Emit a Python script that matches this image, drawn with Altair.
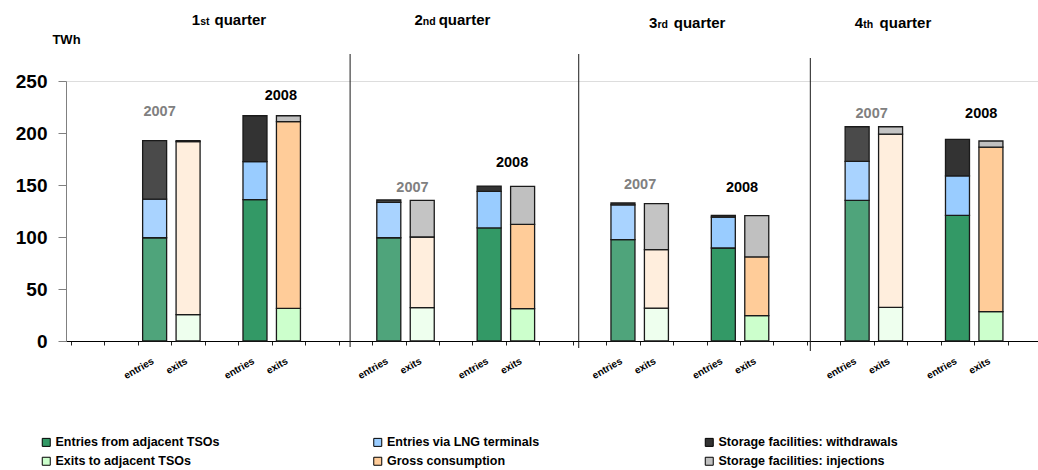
import altair as alt
import pandas as pd

# ---------------- data ----------------
quarters = ["1st quarter", "2nd quarter", "3rd quarter", "4th quarter"]
title_nums = ["1", "2", "3", "4"]
title_suffixes = ["st", "nd", "rd", "th"]
years = ["2007", "2008"]
sides = ["entries", "exits"]
series_entries = ["Entries from adjacent TSOs", "Entries via LNG terminals",
                  "Storage facilities: withdrawals"]
series_exits = ["Exits to adjacent TSOs", "Gross consumption",
                "Storage facilities: injections"]

# TWh, per quarter (Q1..Q4)
entries_tso_2007 = [99.3, 99.3, 97.4, 135.3]
lng_2007 = [37.2, 34.0, 33.4, 37.5]
withdrawals_2007 = [56.1, 2.3, 1.9, 33.2]
exits_tso_2007 = [25.3, 32.0, 31.7, 32.4]
consumption_2007 = [166.5, 68.0, 56.1, 166.6]
injections_2007 = [0.8, 35.3, 44.3, 7.0]

entries_tso_2008 = [135.9, 108.7, 89.4, 120.8]
lng_2008 = [36.5, 35.2, 29.8, 37.9]
withdrawals_2008 = [44.2, 5.1, 1.6, 35.2]
exits_tso_2008 = [31.4, 31.1, 24.4, 28.2]
consumption_2008 = [179.5, 81.1, 56.4, 158.3]
injections_2008 = [5.7, 36.5, 39.7, 5.8]

values = {
    ("2007", "entries"): [entries_tso_2007, lng_2007, withdrawals_2007],
    ("2007", "exits"): [exits_tso_2007, consumption_2007, injections_2007],
    ("2008", "entries"): [entries_tso_2008, lng_2008, withdrawals_2008],
    ("2008", "exits"): [exits_tso_2008, consumption_2008, injections_2008],
}

# ---------------- layout ----------------
FONT = "Liberation Sans"
SLOT_PX = 33.8
PLOT_W = 972
PLOT_H = 260
X_MAX = PLOT_W / SLOT_PX
Y_PX = PLOT_H / 250.0
SLOTS_PER_Q = 7
bar_offset = {("2007", "entries"): 2.5, ("2007", "exits"): 3.5,
              ("2008", "entries"): 5.5, ("2008", "exits"): 6.5}

def px_to_slot(px):
    return (px - 66) / SLOT_PX

def py_to_val(py):
    return (341 - py) / Y_PX

series_all = [series_entries[0], series_entries[1], series_entries[2],
              series_exits[0], series_exits[1], series_exits[2]]
colors_2008 = ["#339966", "#99CCFF", "#333333", "#CCFFCC", "#FFCC99", "#C0C0C0"]
colors_2007 = ["#4FA47B", "#A9D3FF", "#4A4A4A", "#EEFFEE", "#FFEEDD", "#C4C4C4"]

rows = []
for qi, q in enumerate(quarters):
    for yr in years:
        for side in sides:
            names = series_entries if side == "entries" else series_exits
            for k, name in enumerate(names):
                rows.append({
                    "quarter": q, "year": yr, "side": side, "series": name,
                    "value": values[(yr, side)][k][qi], "ord": k,
                    "pos": SLOTS_PER_Q * qi + bar_offset[(yr, side)],
                })
bars = pd.DataFrame(rows)

# category labels under the bars: anchor (top-right corner of the rotated
# text) sits 4 px left of the bar centre and 15 px below the axis
LAB_DX_PX, LAB_DY_PX = -4, 15
lab_rows = []
for qi in range(4):
    for yr in years:
        for side in sides:
            lab_rows.append({
                "label": side,
                "pos": SLOTS_PER_Q * qi + bar_offset[(yr, side)] + LAB_DX_PX / SLOT_PX,
                "y": -LAB_DY_PX / Y_PX,
            })
labels_df = pd.DataFrame(lab_rows)

# year annotations (centre, px in the reference layout)
yr_label_px_x = [155.5, 278, 411, 511.7, 641, 744, 875, 985.7]
yr_label_px_y = [112, 96, 188, 162.7, 184.7, 188, 114, 114]
yr_df = pd.DataFrame({
    "text": years * 4,
    "pos": [px_to_slot(v) for v in yr_label_px_x],
    "y": [py_to_val(v) for v in yr_label_px_y],
})

# quarter titles
title_num_px = [188, 413, 650, 858]
title_word_px = [211, 437.5, 675, 883]
title_base_px = [24.5, 24.5, 27.5, 27.5]
titles_df = pd.DataFrame({
    "num": title_nums, "suf": title_suffixes,
    "word": ["quarter"] * 4,
    "xnum": [px_to_slot(v) for v in title_num_px],
    "xsuf": [px_to_slot(v + 8.5) for v in title_num_px],
    "xword": [px_to_slot(v) for v in title_word_px],
    "y": [py_to_val(v) for v in title_base_px],
})

# separators between quarters
sep_px = [348, 579, 813]
sep_top_px = [54, 54, 58]
sep_bot_px = [347, 348, 351]
sep_df = pd.DataFrame({
    "pos": [px_to_slot(v) for v in sep_px],
    "top": [py_to_val(v) for v in sep_top_px],
    "bot": [py_to_val(v) for v in sep_bot_px],
})

# ---------------- encodings ----------------
xscale = alt.Scale(domain=[0, X_MAX], nice=False, zero=False)
yscale = alt.Scale(domain=[0, 250], nice=False)
X_AX = alt.Axis(values=list(range(29)), labels=False, title=None, grid=False,
                tickSize=4, tickColor="#222222", domainColor="#000000",
                domainWidth=1)
Y_AX = alt.Axis(values=[0, 50, 100, 150, 200, 250], grid=False, tickSize=8,
                tickColor="#808080", domainColor="#808080", labelFont=FONT,
                labelFontSize=19, labelFontWeight="bold", labelColor="#000000",
                labelPadding=11, title="TWh", titleAngle=0, titleX=0, titleY=-42,
                titleAlign="center", titleBaseline="middle", titleFont=FONT,
                titleFontSize=13, titleFontWeight="bold", titleColor="#000000")

def xenc(field):
    return alt.X(f"{field}:Q", scale=xscale, axis=X_AX)

def yenc(field, **kw):
    return alt.Y(f"{field}:Q", scale=yscale, axis=Y_AX, **kw)

bars07 = alt.Chart(bars[bars.year == "2007"]).mark_bar(
    width=24, stroke="#1a1a1a", strokeWidth=1.3).encode(
    x=xenc("pos"),
    y=yenc("value", stack="zero"),
    color=alt.Color("series:N", scale=alt.Scale(domain=series_all, range=colors_2007),
                    legend=None),
    order=alt.Order("ord:Q", sort="ascending"),
)

bars08 = alt.Chart(bars[bars.year == "2008"]).mark_bar(
    width=24, stroke="#1a1a1a", strokeWidth=1.3).encode(
    x=xenc("pos"),
    y=yenc("value", stack="zero"),
    color=alt.Color("series:N", scale=alt.Scale(domain=series_all, range=colors_2008),
                    legend=alt.Legend(orient="none", legendX=-26, legendY=355,
                                      columns=3, direction="horizontal", title=None,
                                      symbolType="square", symbolSize=64,
                                      symbolStrokeColor="#000000", symbolStrokeWidth=1,
                                      labelFont=FONT, labelFontSize=12.5,
                                      labelFontWeight="bold", labelColor="#000000",
                                      labelLimit=400,
                                      columnPadding=136.5, rowPadding=6, gridAlign="all",
                                      labelOffset=3, padding=0, symbolOpacity=1)),
    order=alt.Order("ord:Q", sort="ascending"),
)

xlabels = alt.Chart(labels_df).mark_text(
    align="right", baseline="top",
    font=FONT, fontSize=10, fontWeight="bold", color="#000000").encode(
    x=xenc("pos"), y=yenc("y"), text="label:N", angle=alt.value(330))

yrlabels = alt.Chart(yr_df).mark_text(
    font=FONT, fontSize=14.5, fontWeight="bold", baseline="middle", align="center").encode(
    x=xenc("pos"), y=yenc("y"), text="text:N",
    color=alt.Color("text:N", scale=alt.Scale(domain=years, range=["#808080", "#000000"]),
                    legend=None))

t_num = alt.Chart(titles_df).mark_text(
    font=FONT, fontSize=15, fontWeight="bold", align="left", baseline="alphabetic",
    color="#000000").encode(x=xenc("xnum"), y=yenc("y"), text="num:N")
t_suf = alt.Chart(titles_df).mark_text(
    font=FONT, fontSize=10.5, fontWeight="bold", align="left", baseline="alphabetic",
    color="#000000").encode(x=xenc("xsuf"), y=yenc("y"), text="suf:N")
t_word = alt.Chart(titles_df).mark_text(
    font=FONT, fontSize=15, fontWeight="bold", align="left", baseline="alphabetic",
    color="#000000").encode(x=xenc("xword"), y=yenc("y"), text="word:N")

seps = alt.Chart(sep_df).mark_rule(color="#1a1a1a", strokeWidth=1).encode(
    x=xenc("pos"), y=yenc("top"), y2="bot:Q")

chart = alt.layer(
    seps, bars07, bars08, xlabels, yrlabels, t_num, t_suf, t_word
).resolve_scale(color="independent").properties(
    width=PLOT_W, height=PLOT_H,
    autosize=alt.AutoSizeParams(type="none"),
    padding={"left": 66, "top": 81, "right": 0, "bottom": 129},
).configure_view(stroke=None).configure(background="white")

chart.save("out.html", embed_options={"renderer": "svg", "actions": False})
